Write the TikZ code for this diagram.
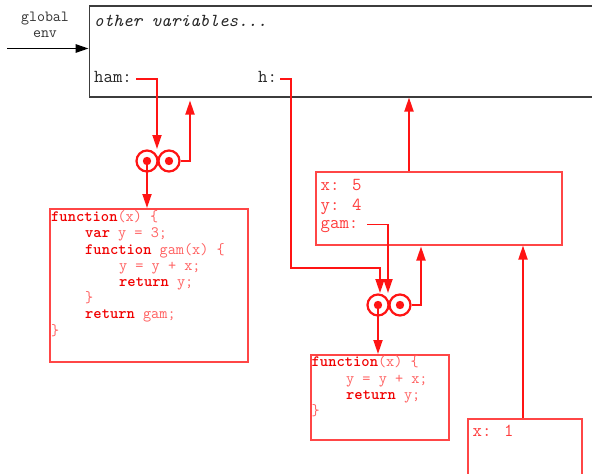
\documentclass[tikz,border=0pt]{standalone}
\usepackage{fontspec}
\usetikzlibrary{arrows.meta}
\newcommand\mono{\ttfamily}
\definecolor{lnred}{RGB}{255,20,20}
\definecolor{bxred}{RGB}{255,70,70}
\definecolor{kwred}{RGB}{240,0,0}
\definecolor{txred}{RGB}{255,95,95}
\definecolor{valred}{RGB}{255,60,60}
\definecolor{glgray}{RGB}{60,60,60}
\newcommand\kwd[1]{{\bfseries\color{kwred}#1}}
\tikzset{
  conn/.style={draw=lnred, line width=1.8pt, -{Triangle[length=14pt,width=9pt]}},
  boxr/.style={draw=bxred, line width=1.6pt, rectangle, inner sep=0pt, anchor=north west},
  code/.style={anchor=base west, inner sep=0pt, text=txred, font=\mono\fontsize{15.8}{18}\selectfont},
  val/.style={anchor=base west, inner sep=0pt, text=valred, font=\mono\fontsize{18.3}{20}\selectfont},
  gtxt/.style={anchor=base west, inner sep=0pt, text=black!85, font=\mono\fontsize{18.3}{20}\selectfont},
  ring/.style={circle, draw=lnred, line width=2.2pt, minimum size=21pt, inner sep=0pt},
}
\begin{document}
\begin{tikzpicture}[x=1pt,y=-1pt]
\useasboundingbox (0,0) rectangle (592,474);
\clip (0,0) rectangle (592,474);
% global env
\node[draw=glgray, line width=1.7pt, rectangle, inner sep=0pt, anchor=north west, minimum width=520pt, minimum height=91pt] (glob) at (88.5,5) {};
\node[anchor=base, inner sep=0pt, text=black!80, font=\mono\fontsize{15.5}{17}\selectfont] (gl1) at (45,21) {global};
\node[anchor=base, inner sep=0pt, text=black!80, font=\mono\fontsize{15.5}{17}\selectfont] (gl2) at (45,37) {env};
\coordinate (gstart) at (7,48.5);
\draw[line width=1.5pt, -{Triangle[length=13pt,width=8.5pt]}] (gstart) -- (glob.west |- gstart);
\node[gtxt, font=\mono\itshape\fontsize{18.3}{20}\selectfont] (other) at (94,26.5) {other variables...};
\node[gtxt] (ham) at (94,82.5) {ham:};
\node[gtxt] (h) at (258,82.5) {h:};
% first closure
\node[ring] (c1a) at (147,161) {};
\node[ring] (c1b) at (169,161) {};
\fill[lnred] (c1a.center) circle (4.2pt);
\fill[lnred] (c1b.center) circle (4.2pt);
\coordinate (hamA) at (136,79);
\coordinate (hamB) at (157,79);
\coordinate (hamT) at (157,149);
\draw[conn] (hamA) -- (hamB) -- (hamT);
\coordinate (c1r) at (190,161);
\coordinate (c1g) at (190,100.5);
\draw[conn] (c1b.east) -- (c1r) -- (c1g);
% function box 1
\node[boxr, minimum width=198pt, minimum height=153pt] (f1) at (49,208) {};
\draw[conn] (c1a.center) -- (c1a.center |- f1.north);
\node[code] (f1l1) at (51,221.7) {\kwd{function}(x) \{};
\node[code] (f1l2) at (85,237.9) {\kwd{var} y = 3;};
\node[code] (f1l3) at (85,254.1) {\kwd{function} gam(x) \{};
\node[code] (f1l4) at (119,270.3) {y = y + x;};
\node[code] (f1l5) at (119,286.5) {\kwd{return} y;};
\node[code] (f1l6) at (85,302.7) {\}};
\node[code] (f1l7) at (85,318.9) {\kwd{return} gam;};
\node[code] (f1l8) at (51,335.1) {\}};
% frame
\node[boxr, minimum width=246pt, minimum height=73pt] (fr) at (315,171) {};
\node[val] (fx) at (320.5,190.7) {x: 5};
\node[val] (fy) at (320.5,210.7) {y: 4};
\node[val] (fgam) at (320.5,228.5) {gam:};
\coordinate (frup) at (409,171);
\coordinate (frgl) at (409,97.5);
\draw[conn] (frup) -- (frgl);
% second closure
\node[ring] (c2a) at (378,305) {};
\node[ring] (c2b) at (400,305) {};
\fill[lnred] (c2a.center) circle (4.2pt);
\fill[lnred] (c2b.center) circle (4.2pt);
\coordinate (hA) at (280,79);
\coordinate (hB) at (291,79);
\coordinate (hC) at (291,268);
\coordinate (hD) at (380,268);
\coordinate (hT) at (380,293);
\draw[conn] (hA) -- (hB) -- (hC) -- (hD) -- (hT);
\coordinate (gA) at (367,224.5);
\coordinate (gB) at (388,224.5);
\coordinate (gT) at (388,293);
\draw[conn] (gA) -- (gB) -- (gT);
\coordinate (c2r) at (421,305);
\coordinate (c2f) at (421,246.5);
\draw[conn] (c2b.east) -- (c2r) -- (c2f);
% function box 2
\node[boxr, minimum width=138pt, minimum height=85pt] (f2) at (310,354) {};
\draw[conn] (c2a.center) -- (c2a.center |- f2.north);
\node[code] (f2l1) at (311.5,366.7) {\kwd{function}(x) \{};
\node[code] (f2l2) at (346,383.1) {y = y + x;};
\node[code] (f2l3) at (346,399.3) {\kwd{return} y;};
\node[code] (f2l4) at (311.5,415.5) {\}};
% x:1 frame
\node[boxr, minimum width=114pt, minimum height=70pt] (fx1) at (467,418) {};
\node[val] (fx1t) at (472.5,436.7) {x: 1};
\coordinate (x1up) at (523,418);
\coordinate (x1fr) at (523,245.5);
\draw[conn] (x1up) -- (x1fr);
\end{tikzpicture}
\end{document}
